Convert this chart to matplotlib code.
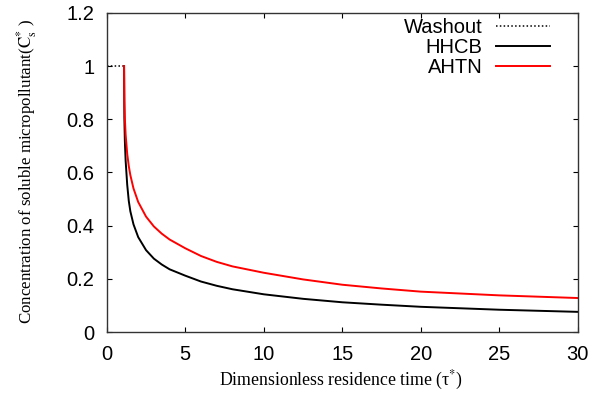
import matplotlib
matplotlib.use("Agg")
import matplotlib.pyplot as plt
from matplotlib.ticker import FormatStrFormatter

plt.rcParams['mathtext.fontset'] = 'stix'

# washout: C* = 1 until the front reaches the outlet
washout_tau = [0.0, 1.1]
washout_c = [1.0, 1.0]

# HHCB (black)
hhcb_tau = [1.1, 1.12, 1.15, 1.2, 1.3, 1.4, 1.5, 1.7, 2.0, 2.5, 3.0, 3.5, 4.0,
            5.0, 6.0, 7.0, 8.0, 10.0, 12.5, 15.0, 17.5, 20.0, 25.0, 30.0]
hhcb_c = [1.0, 0.802, 0.719, 0.644, 0.554, 0.493, 0.454, 0.405, 0.357, 0.308, 0.276, 0.254, 0.236,
          0.212, 0.190, 0.174, 0.161, 0.142, 0.125, 0.112, 0.103, 0.095, 0.084, 0.076]

# AHTN (red)
ahtn_tau = [1.1, 1.12, 1.15, 1.2, 1.3, 1.4, 1.5, 1.7, 2.0, 2.5, 3.0, 3.5, 4.0,
            5.0, 6.0, 7.0, 8.0, 10.0, 12.5, 15.0, 17.5, 20.0, 25.0, 30.0]
ahtn_c = [1.0, 0.865, 0.803, 0.742, 0.670, 0.624, 0.590, 0.540, 0.489, 0.434, 0.397, 0.370, 0.348,
          0.315, 0.286, 0.264, 0.247, 0.223, 0.198, 0.178, 0.164, 0.152, 0.138, 0.128]

fig = plt.figure(figsize=(6.0, 4.03), dpi=100)
ax = fig.add_axes([0.178, 0.176, 0.785, 0.792])

ax.plot(washout_tau, washout_c, color='black', linestyle=(0, (1, 1.5)), linewidth=1.1, label='Washout')
ax.plot(hhcb_tau, hhcb_c, color='black', linewidth=1.4, label='HHCB')
ax.plot(ahtn_tau, ahtn_c, color='#ff0000', linewidth=1.4, label='AHTN')

ax.set_xlim(0, 30)
ax.set_ylim(0, 1.2)
ax.set_xticks([0, 5, 10, 15, 20, 25, 30])
ax.set_yticks([0, 0.2, 0.4, 0.6, 0.8, 1.0, 1.2])
ax.yaxis.set_major_formatter(FormatStrFormatter('%g'))
ax.tick_params(direction='in', top=True, right=True, length=3.8, width=0.8, labelsize=14.5)
ax.tick_params(axis='x', pad=9)
ax.tick_params(axis='y', pad=9)
for lab in ax.get_xticklabels() + ax.get_yticklabels():
    lab.set_family('Liberation Sans')
for s in ax.spines.values():
    s.set_linewidth(1.0)
    s.set_color('#333333')

ax.set_xlabel('Dimensionless residence time (τ$^{*}$)', family='Liberation Serif', fontsize=12.8)
ax.set_ylabel(r'Concentration of soluble micropollutant($\mathrm{C}_{\mathrm{s}}^{*}$ )',
              family='Liberation Serif', fontsize=12.2)
ax.xaxis.set_label_coords(0.497, -0.115)
ax.yaxis.set_label_coords(-0.145, 0.505)

leg = ax.legend(loc='upper right', bbox_to_anchor=(0.958, 1.008), frameon=False, markerfirst=False,
                handlelength=2.7, labelspacing=0.05, borderaxespad=0.0, handletextpad=0.65,
                prop={'family': 'Liberation Sans', 'size': 14.5})
for t in leg.get_texts():
    t.set_ha('right')

fig.savefig('out.png', dpi=100)
